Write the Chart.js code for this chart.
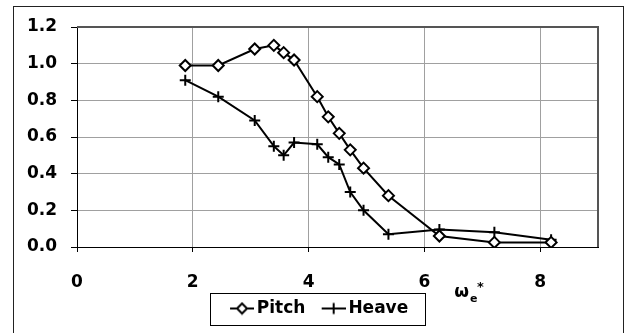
<!DOCTYPE html>
<html>
<head>
<meta charset="utf-8">
<script src="https://cdn.jsdelivr.net/npm/chart.js@4"></script>
<style>
  html, body { margin: 0; padding: 0; background: #fff; }
  canvas { display: block; }
</style>
</head>
<body>
<canvas id="myChart" width="633" height="333"></canvas>
<script>
// values
const omega = [1.87, 2.44, 3.07, 3.40, 3.57, 3.75, 4.15, 4.34, 4.53, 4.72, 4.95, 5.38, 6.26, 7.21, 8.19];
const pitch = [0.99, 0.99, 1.08, 1.10, 1.06, 1.02, 0.82, 0.71, 0.62, 0.53, 0.43, 0.28, 0.06, 0.025, 0.025];
const heave = [0.91, 0.82, 0.69, 0.55, 0.50, 0.57, 0.56, 0.49, 0.45, 0.30, 0.20, 0.07, 0.095, 0.08, 0.04];
const seriesNames = ['Pitch', 'Heave'];
const xTicks = [0, 2, 4, 6, 8];
const yTicks = [0, 0.2, 0.4, 0.6, 0.8, 1.0, 1.2];

const FONT = 'DejaVu Sans';
const BOX_W = 24.5;   // legend point box width
const SAMPLE_W = 24;  // visible line+marker sample

function pts(xs, ys) {
    return xs.map((x, i) => ({ x: x, y: ys[i] }));
}

// line+marker samples for the legend, drawn in the right part of the image
function legendSample(style) {
    const c = document.createElement('canvas');
    c.width = 36;
    c.height = 14;
    const g = c.getContext('2d');
    const x0 = c.width - SAMPLE_W, cx = x0 + SAMPLE_W / 2;
    g.strokeStyle = '#000';
    g.lineWidth = 2;
    g.beginPath();
    g.moveTo(x0, 7);
    g.lineTo(c.width, 7);
    g.stroke();
    if (style === 'diamond') {
        g.beginPath();
        g.moveTo(cx - 5, 7);
        g.lineTo(cx, 2);
        g.lineTo(cx + 5, 7);
        g.lineTo(cx, 12);
        g.closePath();
        g.fillStyle = '#fff';
        g.fill();
        g.stroke();
    } else {
        g.beginPath();
        g.moveTo(cx, 1.5);
        g.lineTo(cx, 12.5);
        g.stroke();
    }
    return c;
}

const samples = [legendSample('diamond'), legendSample('cross')];

// frame, plot border, legend box and the axis title
const decorations = {
    id: 'decorations',
    afterLayout(chart) {
        // the legend sits a little right of the plot centre
        const shift = 17;
        chart.legend.left += shift;
        chart.legend.right += shift;
    },
    afterDraw(chart) {
        const ctx = chart.ctx;
        const a = chart.chartArea;
        ctx.save();
        // plot area top and right edges
        ctx.strokeStyle = '#555';
        ctx.lineWidth = 2;
        ctx.beginPath();
        ctx.moveTo(a.left, a.top);
        ctx.lineTo(a.right, a.top);
        ctx.lineTo(a.right, a.bottom);
        ctx.stroke();

        // outer chart frame
        ctx.strokeStyle = '#222';
        ctx.lineWidth = 1;
        ctx.strokeRect(13.5, 6.5, 610, 340);

        // legend border
        const hb = chart.legend.legendHitBoxes;
        if (hb && hb.length) {
            const first = hb[0], last = hb[hb.length - 1];
            const l = Math.round(first.left - 14) + 0.5;
            const r = Math.round(last.left + last.width + 17) + 0.5;
            const cy = first.top + first.height / 2;
            const t = Math.round(cy - 16) + 0.5;
            const b = Math.round(cy + 16) + 0.5;
            ctx.strokeStyle = '#000';
            ctx.lineWidth = 1;
            ctx.strokeRect(l, t, r - l, b - t);
        }

        // x axis title: omega_e*
        const x0 = chart.scales.x.getPixelForValue(6) + 30;
        const base = a.bottom + 50;
        ctx.fillStyle = '#000';
        ctx.textBaseline = 'alphabetic';
        ctx.textAlign = 'left';
        ctx.font = 'bold 17px ' + FONT;
        ctx.fillText('ω', x0, base);
        const w = ctx.measureText('ω').width;
        ctx.font = 'bold 11px ' + FONT;
        ctx.fillText('e', x0 + w + 1, base + 5);
        ctx.font = 'bold 13px ' + FONT;
        ctx.fillText('*', x0 + w + 8, base - 6);
        ctx.restore();
    }
};

const ctx = document.getElementById('myChart').getContext('2d');

const myChart = new Chart(ctx, {
    type: 'scatter',
    data: {
        datasets: [{
            label: seriesNames[0],
            data: pts(omega, pitch),
            showLine: true,
            borderColor: '#000',
            borderWidth: 2,
            pointStyle: 'rectRot',
            pointRadius: 5.5,
            pointBorderWidth: 2,
            pointBackgroundColor: '#fff',
            pointBorderColor: '#000',
            tension: 0
        }, {
            label: seriesNames[1],
            data: pts(omega, heave),
            showLine: true,
            borderColor: '#000',
            borderWidth: 2,
            pointStyle: 'cross',
            pointRadius: 5.5,
            pointBorderWidth: 2,
            pointBorderColor: '#000',
            tension: 0
        }]
    },
    options: {
        responsive: false,
        animation: false,
        devicePixelRatio: 1,
        layout: {
            padding: { left: 0, right: 35, top: 27, bottom: 6 }
        },
        scales: {
            x: {
                type: 'linear',
                min: 0,
                max: 9,
                afterFit: function (scale) { scale.height = 43; },
                afterBuildTicks: function (scale) {
                    scale.ticks = xTicks.map(v => ({ value: v }));
                },
                ticks: {
                    color: '#000',
                    padding: 20,
                    font: { family: FONT, size: 17, weight: 'bold' }
                },
                grid: {
                    color: '#a0a0a0',
                    lineWidth: 1,
                    tickColor: '#000',
                    tickLength: 5
                },
                border: { color: '#000', width: 1 }
            },
            y: {
                min: 0,
                max: 1.2,
                afterFit: function (scale) { scale.width = 77; },
                afterBuildTicks: function (scale) {
                    scale.ticks = yTicks.map(v => ({ value: v }));
                },
                ticks: {
                    color: '#000',
                    padding: 14,
                    font: { family: FONT, size: 17, weight: 'bold' },
                    callback: function (v) { return Number(v).toFixed(1); }
                },
                grid: {
                    color: '#a0a0a0',
                    lineWidth: 1,
                    tickColor: '#000',
                    tickLength: 6
                },
                border: { color: '#000', width: 1 }
            }
        },
        plugins: {
            legend: {
                display: true,
                position: 'bottom',
                labels: {
                    usePointStyle: true,
                    pointStyleWidth: BOX_W,
                    padding: 10,
                    color: '#000',
                    font: { family: FONT, size: 17, weight: 'bold' },
                    generateLabels: function (chart) {
                        const items = Chart.defaults.plugins.legend.labels.generateLabels(chart);
                        items.forEach((it, i) => { it.pointStyle = samples[i]; });
                        return items;
                    }
                }
            },
            tooltip: { enabled: false },
            title: { display: false }
        }
    },
    plugins: [decorations]
});
</script>
</body>
</html>
